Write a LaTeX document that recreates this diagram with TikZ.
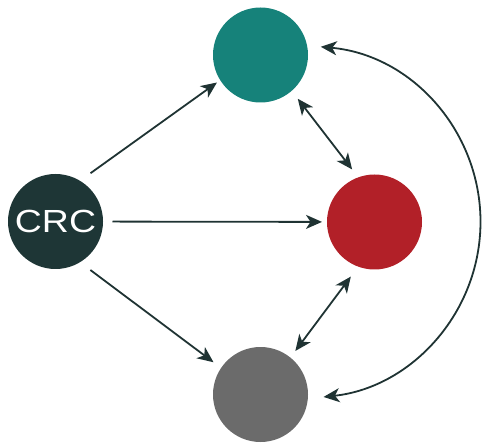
\documentclass[tikz,border=0pt]{standalone}
\usepackage{fontspec}
\setmainfont{Liberation Sans}
\usetikzlibrary{arrows.meta}
\definecolor{crcc}{HTML}{1E3636}
\definecolor{tealc}{HTML}{16827A}
\definecolor{redc}{HTML}{B22028}
\definecolor{grayc}{HTML}{6B6B6B}
\definecolor{linec}{HTML}{1F3333}
\begin{document}
\begin{tikzpicture}[x=1pt,y=-1pt,
  ball/.style={circle,minimum size=95pt,inner sep=0pt,outer sep=0pt},
  tip/.tip={Stealth[length=16pt,width=14pt,inset=4.5pt]},
  conn/.style={draw=linec,line width=1.8pt,-tip},
  dconn/.style={draw=linec,line width=1.8pt,tip-tip}]
\useasboundingbox (0,0) rectangle (483,444);
\node[ball,fill=crcc,text=white,font=\fontsize{32}{32}\selectfont] (crc) at (55.5,221.5) {\scalebox{1.17}[1]{CRC}};
\node[ball,fill=tealc] (teal) at (260.5,55) {};
\node[ball,fill=redc] (red) at (374.5,222) {};
\node[ball,fill=grayc] (gray) at (260.5,394.5) {};
\coordinate (arcc) at (304.5,222);
% CRC outgoing
\draw[conn,shorten <=13pt,shorten >=4pt] (crc.59) -- (teal.212);
\draw[conn,shorten <=9.5pt,shorten >=5pt] (crc) -- (red);
\draw[conn,shorten <=13pt,shorten >=9.5pt] (crc.-59) -- (gray.146.5);
% double arrows
\draw[dconn,shorten <=10pt,shorten >=10pt] (teal.-49) -- (red.110);
\draw[dconn,shorten <=12.4pt,shorten >=8.3pt] (red.-110) -- (gray.51.8);
% big arc
\draw[dconn] ([shift={(-84.7:176)}]arcc) arc[start angle=-84.7,end angle=83.8,radius=176];
\end{tikzpicture}
\end{document}
